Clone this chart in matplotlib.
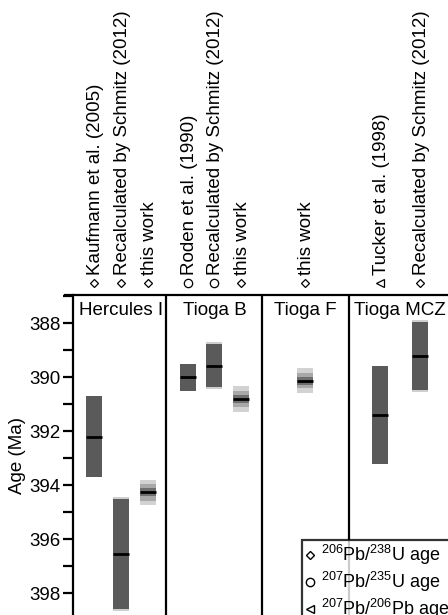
import matplotlib
matplotlib.use("Agg")
import matplotlib.pyplot as plt
from matplotlib.lines import Line2D

plt.rcParams['font.family'] = ['Liberation Sans', 'DejaVu Sans']
plt.rcParams['mathtext.fontset'] = 'custom'
plt.rcParams['mathtext.rm'] = 'Liberation Sans'
plt.rcParams['font.size'] = 13.5

# sample groups and their ages (Ma)
groups = ['Hercules I', 'Tioga B', 'Tioga F', 'Tioga MCZ']

# single-error ages (published / recalculated)
pub_labels = ['Kaufmann et al. (2005)', 'Recalculated by Schmitz (2012)',
              'Roden et al. (1990)', 'Recalculated by Schmitz (2012)',
              'Tucker et al. (1998)', 'Recalculated by Schmitz (2012)']
pub_marker = ['D', 'D', 'o', 'o', '<', 'D']
pub_age = [392.2, 396.55, 390.0, 389.58, 391.4, 389.22]
pub_err = [1.5, 2.05, 0.5, 0.8, 1.8, 1.27]
pub_fringe = [0.0, 0.06, 0.0, 0.07, 0.0, 0.06]

# this work: mean with three uncertainty levels
tw_age = [394.27, 390.80, 390.14]
tw_err_x = [0.15, 0.15, 0.15]
tw_err_y = [0.30, 0.30, 0.28]
tw_err_z = [0.46, 0.48, 0.46]

# column layout
pub_x = [0.8, 1.8, 4.3, 5.3, 11.5, 13.0]
tw_x = [2.8, 6.3, 8.7]
dividers = [3.5, 7.08, 10.34]
group_x = [1.8, 5.3, 8.7, 12.25]
w = 0.6

fig = plt.figure(figsize=(4.48, 6.15), dpi=100)
ax = fig.add_axes([73/448, 0, 1 - 73/448, 320/615])
ax.set_xlim(0, 14.05)
ax.set_ylim(398.81, 386.96)

dark = '#5a5a5a'
for x, a, e, f in zip(pub_x, pub_age, pub_err, pub_fringe):
    if f > 0:
        ax.bar(x, 2*(e+f), bottom=a-e-f, width=w, color='#cfcfcf', zorder=2)
    ax.bar(x, 2*e, bottom=a-e, width=w, color=dark, zorder=3)
    ax.plot([x - w/2, x + w/2], [a, a], color='black', lw=2, zorder=4,
            solid_capstyle='butt')

for x, a, ex, ey, ez in zip(tw_x, tw_age, tw_err_x, tw_err_y, tw_err_z):
    ax.bar(x, 2*ez, bottom=a-ez, width=w, color='#d2d2d2', zorder=2)
    ax.bar(x, 2*ey, bottom=a-ey, width=w, color='#a8a8a8', zorder=3)
    ax.bar(x, 2*ex, bottom=a-ex, width=w, color='#6e6e6e', zorder=4)
    ax.plot([x - w/2, x + w/2], [a, a], color='black', lw=2, zorder=5,
            solid_capstyle='butt')

for d in dividers:
    ax.axvline(d, color='black', lw=1.6, zorder=6)

for g, gx in zip(groups, group_x):
    ax.text(gx, 0.953, g, transform=ax.get_xaxis_transform(),
            ha='center', va='center', fontsize=13.5)

# top labels with their markers
trans = ax.get_xaxis_transform()
all_x = [pub_x[0], pub_x[1], tw_x[0], pub_x[2], pub_x[3], tw_x[1], tw_x[2], pub_x[4], pub_x[5]]
all_lab = [pub_labels[0], pub_labels[1], 'this work', pub_labels[2], pub_labels[3],
           'this work', 'this work', pub_labels[4], pub_labels[5]]
all_mk = [pub_marker[0], pub_marker[1], 'D', pub_marker[2], pub_marker[3], 'D', 'D',
          pub_marker[4], pub_marker[5]]
for x, lab, mk in zip(all_x, all_lab, all_mk):
    ax.text(x + 0.05, 1.0625, lab, transform=trans, rotation=90, ha='center',
            va='bottom', fontsize=13.5)
    ms = 4.5 if mk == 'D' else 6
    ax.plot([x], [1.0375], marker=mk, ms=ms, mfc='white', mec='black', mew=0.9,
            transform=trans, clip_on=False, ls='none')

ax.yaxis.set_major_locator(plt.MultipleLocator(2))
ax.yaxis.set_minor_locator(plt.MultipleLocator(1))
ax.tick_params(axis='y', which='major', length=7, width=1.6, labelsize=13.5, pad=2)
ax.tick_params(axis='y', which='minor', length=7, width=1.6)
ax.set_xticks([])
ax.set_ylabel('Age (Ma)', fontsize=13.5, labelpad=2)

for s in ['bottom', 'right', 'top']:
    ax.spines[s].set_visible(False)
ax.spines['left'].set_linewidth(1.6)
ax.plot([-0.022, 1], [1, 1], color='black', lw=1.6, transform=ax.transAxes,
        clip_on=False, zorder=7)

handles = [Line2D([], [], marker='D', ms=4.5, mfc='white', mec='black', ls='none'),
           Line2D([], [], marker='o', ms=6, mfc='white', mec='black', ls='none'),
           Line2D([], [], marker='<', ms=6, mfc='white', mec='black', ls='none')]
leg_labels = [r'$^{206}$Pb/$^{238}$U age', r'$^{207}$Pb/$^{235}$U age',
              r'$^{207}$Pb/$^{206}$Pb age']
leg = ax.legend(handles, leg_labels, loc='upper left', bbox_to_anchor=(0.611, 0.234),
                frameon=True, fancybox=False, fontsize=13, handlelength=0.6,
                handletextpad=0.3, borderpad=0.15, labelspacing=0.16, borderaxespad=0)
leg.get_frame().set_edgecolor('black')
leg.get_frame().set_linewidth(1.6)
leg.set_zorder(10)

fig.savefig('out.png', dpi=100)
